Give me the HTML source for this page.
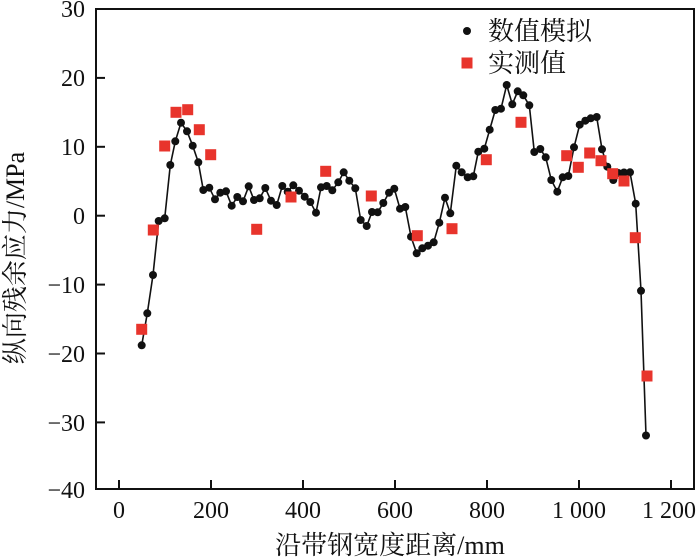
<!DOCTYPE html>
<html><head><meta charset="utf-8"><style>body{margin:0;background:#fff}svg{display:block}</style></head><body>
<svg width="700" height="560" xmlns="http://www.w3.org/2000/svg" font-family="Liberation Serif, Noto Serif CJK SC, serif">
<rect x="96" y="9" width="598" height="480" fill="none" stroke="#111" stroke-width="2"/>
<g stroke="#111" stroke-width="2">
<line x1="119" y1="489" x2="119" y2="480"/><line x1="211" y1="489" x2="211" y2="480"/><line x1="303" y1="489" x2="303" y2="480"/><line x1="395" y1="489" x2="395" y2="480"/><line x1="487" y1="489" x2="487" y2="480"/><line x1="579" y1="489" x2="579" y2="480"/><line x1="671" y1="489" x2="671" y2="480"/>
<line x1="96" y1="77.9" x2="105" y2="77.9"/><line x1="96" y1="146.8" x2="105" y2="146.8"/><line x1="96" y1="215.7" x2="105" y2="215.7"/><line x1="96" y1="284.6" x2="105" y2="284.6"/><line x1="96" y1="353.5" x2="105" y2="353.5"/><line x1="96" y1="422.4" x2="105" y2="422.4"/>
</g>
<g font-size="24" text-anchor="end" fill="#111">
<text x="85" y="17">30</text><text x="85" y="86">20</text><text x="85" y="155">10</text><text x="85" y="224">0</text><text x="85" y="293">−10</text><text x="85" y="362">−20</text><text x="85" y="431">−30</text><text x="85" y="498">−40</text>
</g>
<g font-size="24" text-anchor="middle" fill="#111">
<text x="119" y="518">0</text><text x="211" y="518">200</text><text x="303" y="518">400</text><text x="395" y="518">600</text><text x="487" y="518">800</text><text x="579" y="518">1 000</text><text x="669" y="518">1 200</text>
</g>
<text x="390" y="554" font-size="26" text-anchor="middle" fill="#111">沿带钢宽度距离/mm</text>
<text transform="translate(24,258) rotate(-90)" font-size="26" text-anchor="middle" fill="#111">纵向残余应力/MPa</text>
<polyline fill="none" stroke="#111" stroke-width="1.6" points="141.7,345.3 147.3,313.3 153,275 158.7,221 164.7,218.3 170.3,165 175.3,141.3 181,122.7 187,131.3 192.7,145.7 198.3,162.3 203.3,190 209.3,187.7 215,199.3 220.3,192.7 226,191.3 231.7,205.7 237.3,197 243,201.3 248.7,186.3 254,200 259.7,198.3 265.3,188 271,200.7 276.7,205 282.3,186 287.7,191.7 293.3,185.3 299,190.7 304.7,196.7 310.3,202 316,212.7 321,187.3 326.7,186 332.3,190.3 338.3,182.3 343.7,172.3 349.3,180.7 355.3,188.3 360.7,220 366.7,226 372,212 377.7,212.3 383.3,203 389,192.7 394.3,188.7 400,208.7 405.3,207 411,236.7 416.7,253.3 422.3,248.3 428,245.7 433.7,242.3 439.3,222.7 445,197.7 450.3,213.3 456.3,165.7 461.7,172.3 467.7,177.3 473.3,176.3 478.3,151.7 484.3,148.7 489.7,129.7 495.3,110 501,108.7 506.7,85 512.3,104.3 517.7,91.3 523.3,95.3 529.3,105.3 534.3,152 540.3,149 545.7,157.3 551.3,180 557.3,191.7 562.7,177.3 568.3,176 574,147.3 579.7,124.7 585.3,120.7 590.7,118.3 596.7,117 602,149.3 607.3,166.7 613.3,180 618.3,173 624,172.5 630,172.3 635.7,203.7 641,290.8 646,435.5"/>
<g fill="#111">
<circle cx="141.7" cy="345.3" r="4"/><circle cx="147.3" cy="313.3" r="4"/><circle cx="153" cy="275" r="4"/><circle cx="158.7" cy="221" r="4"/><circle cx="164.7" cy="218.3" r="4"/><circle cx="170.3" cy="165" r="4"/><circle cx="175.3" cy="141.3" r="4"/><circle cx="181" cy="122.7" r="4"/><circle cx="187" cy="131.3" r="4"/><circle cx="192.7" cy="145.7" r="4"/><circle cx="198.3" cy="162.3" r="4"/><circle cx="203.3" cy="190" r="4"/><circle cx="209.3" cy="187.7" r="4"/><circle cx="215" cy="199.3" r="4"/><circle cx="220.3" cy="192.7" r="4"/><circle cx="226" cy="191.3" r="4"/><circle cx="231.7" cy="205.7" r="4"/><circle cx="237.3" cy="197" r="4"/><circle cx="243" cy="201.3" r="4"/><circle cx="248.7" cy="186.3" r="4"/><circle cx="254" cy="200" r="4"/><circle cx="259.7" cy="198.3" r="4"/><circle cx="265.3" cy="188" r="4"/><circle cx="271" cy="200.7" r="4"/><circle cx="276.7" cy="205" r="4"/><circle cx="282.3" cy="186" r="4"/><circle cx="287.7" cy="191.7" r="4"/><circle cx="293.3" cy="185.3" r="4"/><circle cx="299" cy="190.7" r="4"/><circle cx="304.7" cy="196.7" r="4"/><circle cx="310.3" cy="202" r="4"/><circle cx="316" cy="212.7" r="4"/><circle cx="321" cy="187.3" r="4"/><circle cx="326.7" cy="186" r="4"/><circle cx="332.3" cy="190.3" r="4"/><circle cx="338.3" cy="182.3" r="4"/><circle cx="343.7" cy="172.3" r="4"/><circle cx="349.3" cy="180.7" r="4"/><circle cx="355.3" cy="188.3" r="4"/><circle cx="360.7" cy="220" r="4"/><circle cx="366.7" cy="226" r="4"/><circle cx="372" cy="212" r="4"/><circle cx="377.7" cy="212.3" r="4"/><circle cx="383.3" cy="203" r="4"/><circle cx="389" cy="192.7" r="4"/><circle cx="394.3" cy="188.7" r="4"/><circle cx="400" cy="208.7" r="4"/><circle cx="405.3" cy="207" r="4"/><circle cx="411" cy="236.7" r="4"/><circle cx="416.7" cy="253.3" r="4"/><circle cx="422.3" cy="248.3" r="4"/><circle cx="428" cy="245.7" r="4"/><circle cx="433.7" cy="242.3" r="4"/><circle cx="439.3" cy="222.7" r="4"/><circle cx="445" cy="197.7" r="4"/><circle cx="450.3" cy="213.3" r="4"/><circle cx="456.3" cy="165.7" r="4"/><circle cx="461.7" cy="172.3" r="4"/><circle cx="467.7" cy="177.3" r="4"/><circle cx="473.3" cy="176.3" r="4"/><circle cx="478.3" cy="151.7" r="4"/><circle cx="484.3" cy="148.7" r="4"/><circle cx="489.7" cy="129.7" r="4"/><circle cx="495.3" cy="110" r="4"/><circle cx="501" cy="108.7" r="4"/><circle cx="506.7" cy="85" r="4"/><circle cx="512.3" cy="104.3" r="4"/><circle cx="517.7" cy="91.3" r="4"/><circle cx="523.3" cy="95.3" r="4"/><circle cx="529.3" cy="105.3" r="4"/><circle cx="534.3" cy="152" r="4"/><circle cx="540.3" cy="149" r="4"/><circle cx="545.7" cy="157.3" r="4"/><circle cx="551.3" cy="180" r="4"/><circle cx="557.3" cy="191.7" r="4"/><circle cx="562.7" cy="177.3" r="4"/><circle cx="568.3" cy="176" r="4"/><circle cx="574" cy="147.3" r="4"/><circle cx="579.7" cy="124.7" r="4"/><circle cx="585.3" cy="120.7" r="4"/><circle cx="590.7" cy="118.3" r="4"/><circle cx="596.7" cy="117" r="4"/><circle cx="602" cy="149.3" r="4"/><circle cx="607.3" cy="166.7" r="4"/><circle cx="613.3" cy="180" r="4"/><circle cx="618.3" cy="173" r="4"/><circle cx="624" cy="172.5" r="4"/><circle cx="630" cy="172.3" r="4"/><circle cx="635.7" cy="203.7" r="4"/><circle cx="641" cy="290.8" r="4"/><circle cx="646" cy="435.5" r="4"/>
</g>
<g fill="#e8342c">
<rect x="136.2" y="323.8" width="11" height="11"/><rect x="147.8" y="224.5" width="11" height="11"/><rect x="159.2" y="140.5" width="11" height="11"/><rect x="170.5" y="106.8" width="11" height="11"/><rect x="182.2" y="104.2" width="11" height="11"/><rect x="193.8" y="124.2" width="11" height="11"/><rect x="205.2" y="149.2" width="11" height="11"/><rect x="251.2" y="223.8" width="11" height="11"/><rect x="285.5" y="191.5" width="11" height="11"/><rect x="320.2" y="165.8" width="11" height="11"/><rect x="365.8" y="190.5" width="11" height="11"/><rect x="411.8" y="230.2" width="11" height="11"/><rect x="446.5" y="223.2" width="11" height="11"/><rect x="480.8" y="154.2" width="11" height="11"/><rect x="515.5" y="116.8" width="11" height="11"/><rect x="561.2" y="150.2" width="11" height="11"/><rect x="572.8" y="161.8" width="11" height="11"/><rect x="584.2" y="147.5" width="11" height="11"/><rect x="595.5" y="155.2" width="11" height="11"/><rect x="607.2" y="168.2" width="11" height="11"/><rect x="618.5" y="175.5" width="11" height="11"/><rect x="629.8" y="232.2" width="11" height="11"/><rect x="641.5" y="370.5" width="11" height="11"/>
</g>
<circle cx="467" cy="31" r="4" fill="#111"/>
<rect x="461.5" y="57.5" width="11" height="11" fill="#e8342c"/>
<text x="488" y="40" font-size="26" fill="#111">数值模拟</text>
<text x="488" y="72" font-size="26" fill="#111">实测值</text>
</svg>
</body></html>
